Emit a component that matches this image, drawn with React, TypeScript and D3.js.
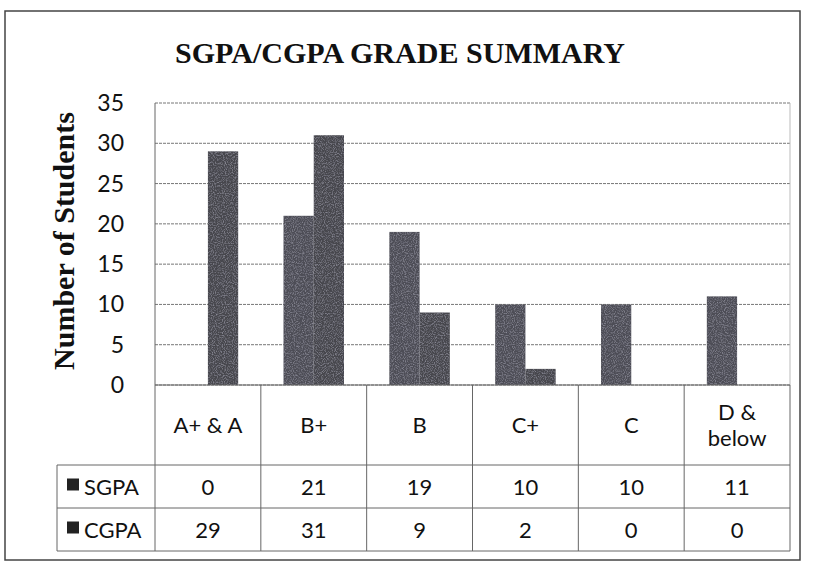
import React from "react";
import * as d3 from "d3";

const categories = ["A+ & A", "B+", "B", "C+", "C", "D & below"];
const seriesNames = ["SGPA", "CGPA"];
const sgpa = [0, 21, 19, 10, 10, 11];
const cgpa = [29, 31, 9, 2, 0, 0];
const yTicks = [0, 5, 10, 15, 20, 25, 30, 35];

const W = 813;
const H = 566;

const App = () => {
    const left = 155;
    const right = 790;
    const top = 103;
    const bottom = 385;

    const x = d3.scaleBand().domain(categories).range([left, right]);
    const y = d3.scaleLinear().domain([0, 35]).range([bottom, top]);
    const barW = x.bandwidth() / 3.5;
    const inner = d3.scaleBand().domain(seriesNames).range([0, barW * 2]);

    const values = [sgpa, cgpa];
    const barColors = ["#4e4e56", "#46464d"];
    const font = "Lato, 'Open Sans', sans-serif";
    const serif = "'Liberation Serif', 'Times New Roman', serif";

    // table rows
    const headTop = bottom;
    const headBottom = 465;
    const rowH = 43;
    const legendLeft = 57;
    const tableBottom = headBottom + rowH * 2;

    return (
        <svg width={W} height={H} style={{ position: "absolute", left: 0, top: 0, background: "#fff" }}>
            <defs>
                <filter id="grain" x="0" y="0" width="100%" height="100%">
                    <feTurbulence type="fractalNoise" baseFrequency="0.9" numOctaves="2" seed="3" result="n" />
                    <feColorMatrix in="n" type="matrix"
                        values="0 0 0 0 0.5  0 0 0 0 0.5  0 0 0 0 0.6  0 0 0 1.0 -0.45" result="c" />
                    <feComposite in="c" in2="SourceGraphic" operator="in" result="m" />
                    <feMerge>
                        <feMergeNode in="SourceGraphic" />
                        <feMergeNode in="m" />
                    </feMerge>
                </filter>
            </defs>

            {/* outer chart border */}
            <rect x={5} y={11} width={795} height={549} fill="none" stroke="#444" strokeWidth={1.5} />

            <text x={400} y={63} textAnchor="middle" fontFamily={serif}
                fontWeight="bold" fontSize={30} fill="#111" textLength={450}>SGPA/CGPA GRADE SUMMARY</text>

            <text transform={`translate(74, ${(top + bottom) / 2 - 3}) rotate(-90)`} textAnchor="middle"
                fontFamily={serif} fontWeight="bold" fontSize={30}
                fill="#111">Number of Students</text>

            {/* gridlines */}
            {yTicks.map(t => (
                <line key={t} x1={left} x2={right} y1={y(t)} y2={y(t)} stroke="#777" strokeWidth={1}
                    strokeDasharray="3 1" />
            ))}
            <line x1={right} x2={right} y1={top} y2={bottom} stroke="#bbb" strokeWidth={1} />

            {/* tick labels */}
            {yTicks.map(t => (
                <text key={t} x={124} y={y(t) + 8} textAnchor="end" fontFamily={font} fontSize={23}
                    fill="#111">{t}</text>
            ))}

            {/* bars */}
            {values.map((vals, si) => vals.map((v, ci) => {
                const bx = (x(categories[ci]) as number) + (x.bandwidth() - barW * 2) / 2 + (inner(seriesNames[si]) as number);
                return (
                    <rect key={`${si}-${ci}`} x={bx} y={y(v)} width={barW} height={bottom - y(v)}
                        fill={barColors[si]} filter="url(#grain)" />
                );
            }))}

            {/* data table */}
            <g stroke="#666" strokeWidth={1} fill="none">
                <line x1={left} x2={left} y1={top} y2={tableBottom} />
                {categories.map(c => (
                    <line key={c} x1={(x(c) as number) + x.bandwidth()} x2={(x(c) as number) + x.bandwidth()}
                        y1={headTop} y2={tableBottom} />
                ))}
                <line x1={left} x2={right} y1={headTop} y2={headTop} />
                <line x1={legendLeft} x2={right} y1={headBottom} y2={headBottom} />
                <line x1={legendLeft} x2={right} y1={headBottom + rowH} y2={headBottom + rowH} />
                <line x1={legendLeft} x2={right} y1={tableBottom} y2={tableBottom} />
                <line x1={legendLeft} x2={legendLeft} y1={headBottom} y2={tableBottom} />
            </g>

            {categories.map(c => {
                const cx = (x(c) as number) + x.bandwidth() / 2;
                const words = c === "D & below" ? ["D &", "below"] : [c];
                return words.length === 1 ? (
                    <text key={c} x={cx} y={(headTop + headBottom) / 2 + 8} textAnchor="middle" fontFamily={font}
                        fontSize={22} fill="#111">{c}</text>
                ) : (
                    <text key={c} x={cx} textAnchor="middle" fontFamily={font} fontSize={22} fill="#111">
                        <tspan x={cx} y={(headTop + headBottom) / 2 - 5}>{words[0]}</tspan>
                        <tspan x={cx} y={(headTop + headBottom) / 2 + 21}>{words[1]}</tspan>
                    </text>
                );
            })}

            {values.map((vals, si) => {
                const rowY = headBottom + rowH * si + rowH / 2 + 8;
                return (
                    <g key={si}>
                        <rect x={legendLeft + 10} y={rowY - 16} width={12} height={12} fill="#222" />
                        <text x={legendLeft + 27} y={rowY} fontFamily={font} fontSize={22} fill="#111">
                            {seriesNames[si]}
                        </text>
                        {vals.map((v, ci) => (
                            <text key={ci} x={(x(categories[ci]) as number) + x.bandwidth() / 2} y={rowY}
                                textAnchor="middle" fontFamily={font} fontSize={22} fill="#111">{v}</text>
                        ))}
                    </g>
                );
            })}
        </svg>
    );
};

export default App;
